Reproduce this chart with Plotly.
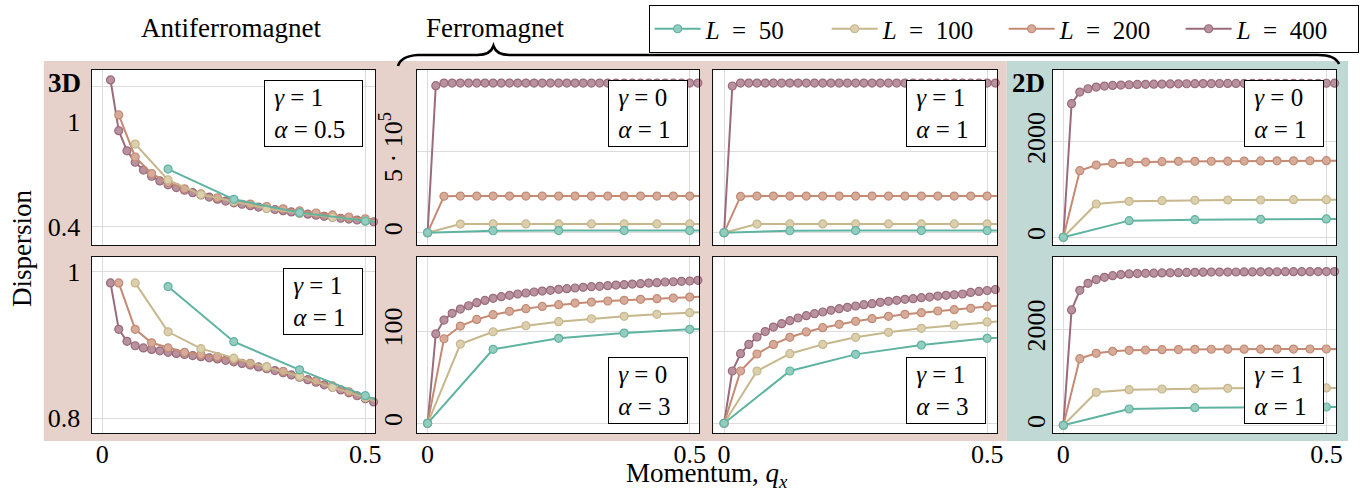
import plotly.graph_objects as go

# ---------------- data ----------------
Q50 = [0, 0.125, 0.25, 0.375, 0.5, 0.625]
Q100 = [0, 0.0625, 0.125, 0.1875, 0.25, 0.3125, 0.375, 0.4375, 0.5, 0.5625]
Q200 = [0, 0.03125, 0.0625, 0.09375, 0.125, 0.15625, 0.1875, 0.21875, 0.25, 0.28125,
        0.3125, 0.34375, 0.375, 0.40625, 0.4375, 0.46875, 0.5, 0.53125]
Q400 = [0, 0.015625, 0.03125, 0.046875, 0.0625, 0.078125, 0.09375, 0.109375, 0.125,
        0.140625, 0.15625, 0.171875, 0.1875, 0.203125, 0.21875, 0.234375, 0.25,
        0.265625, 0.28125, 0.296875, 0.3125, 0.328125, 0.34375, 0.359375, 0.375,
        0.390625, 0.40625, 0.421875, 0.4375, 0.453125, 0.46875, 0.484375, 0.5, 0.515625]

L_LABELS = ["<i>L</i>\u2002=\u200250", "<i>L</i>\u2002=\u2002100",
            "<i>L</i>\u2002=\u2002200", "<i>L</i>\u2002=\u2002400"]

# Antiferromagnet 3D (no q = 0 point)
AF_G1_A05_L50 = [0.731, 0.558, 0.482, 0.433, 0.39]
AF_G1_A05_L100 = [0.874, 0.669, 0.585, 0.545, 0.505, 0.478, 0.455, 0.437, 0.418]
AF_G1_A05_L200 = [1.04, 0.80, 0.705, 0.655, 0.618, 0.59, 0.567, 0.547, 0.531, 0.517,
                  0.504, 0.492, 0.48, 0.469, 0.457, 0.447, 0.437]
AF_G1_A05_L400 = [1.24, 0.95, 0.835, 0.77, 0.725, 0.69, 0.663, 0.641, 0.625, 0.61,
                  0.596, 0.583, 0.571, 0.559, 0.548, 0.538, 0.53, 0.522, 0.514, 0.507,
                  0.5, 0.493, 0.486, 0.479, 0.473, 0.467, 0.461, 0.455, 0.45, 0.445,
                  0.44, 0.435, 0.43]

AF_G1_A1_L50 = [0.98, 0.9045, 0.866, 0.8306, 0.795]
AF_G1_A1_L100 = [0.985, 0.918, 0.895, 0.882, 0.87, 0.857, 0.842, 0.828, 0.812]
AF_G1_A1_L200 = [0.985, 0.9215, 0.903, 0.896, 0.89, 0.887, 0.884, 0.88, 0.875, 0.87,
                 0.864, 0.858, 0.851, 0.844, 0.836, 0.828, 0.819]
AF_G1_A1_L400 = [0.985, 0.9215, 0.905, 0.899, 0.896, 0.894, 0.892, 0.89, 0.8885, 0.887,
                 0.8855, 0.884, 0.8825, 0.881, 0.879, 0.877, 0.8748, 0.8725, 0.87, 0.8675,
                 0.865, 0.862, 0.859, 0.856, 0.8525, 0.849, 0.8455, 0.842, 0.8385, 0.8345,
                 0.8305, 0.8265, 0.822]

# Ferromagnet 3D
FM_G0_A1_L50 = [0, 12000, 13000, 13000, 13000, 13000]
FM_G0_A1_L100 = [0, 53000, 54000, 54000, 54000, 54000, 54000, 54000, 54000, 54000]
FM_G0_A1_L200 = [0, 223000, 224000, 224000, 224000, 224000, 224000, 224000, 224000,
                 224000, 224000, 224000, 224000, 224000, 224000, 224000, 224000, 224000]
FM_G0_A1_L400 = [0, 900000, 916000, 916000, 916000, 916000, 916000, 916000, 916000,
                 916000, 916000, 916000, 916000, 916000, 916000, 916000, 916000, 916000,
                 916000, 916000, 916000, 916000, 916000, 916000, 916000, 916000, 916000,
                 916000, 916000, 916000, 916000, 916000, 916000, 916000]

FM_G1_A1_L50 = [0, 12000, 13000, 13000, 13000, 13000]
FM_G1_A1_L100 = [0, 53000, 54000, 54000, 54000, 54000, 54000, 54000, 54000, 54000]
FM_G1_A1_L200 = [0, 222000, 224000, 224000, 224000, 224000, 224000, 224000, 224000,
                 224000, 224000, 224000, 224000, 224000, 224000, 224000, 224000, 224000]
FM_G1_A1_L400 = [0, 898000, 916000, 916000, 916000, 916000, 916000, 916000, 916000,
                 916000, 916000, 916000, 916000, 916000, 916000, 916000, 916000, 916000,
                 916000, 916000, 916000, 916000, 916000, 916000, 916000, 916000, 916000,
                 916000, 916000, 916000, 916000, 916000, 916000, 916000]

FM_G0_A3_L50 = [0, 80.2, 92.1, 97.8, 101.8, 105.0]
FM_G0_A3_L100 = [0, 85.9, 99.2, 105.7, 110.1, 113.3, 115.9, 118.1, 119.9, 121.5]
FM_G0_A3_L200 = [0, 91.6, 105.4, 112.6, 117.7, 121.3, 124.2, 126.7, 128.5, 130.3,
                 131.4, 132.5, 133.3, 134.3, 135.0, 135.7, 136.8, 137.4]
FM_G0_A3_L400 = [0, 96.8, 111.9, 119.2, 123.8, 127.4, 130.7, 133.2, 135.4, 137.2,
                 138.7, 140.1, 141.2, 142.3, 143.3, 144.1, 145.2, 145.9, 146.6, 147.3,
                 148.0, 148.4, 149.1, 149.8, 150.2, 150.9, 151.3, 152.0, 152.4, 153.1,
                 153.4, 153.8, 154.2, 154.9]

FM_G1_A3_L50 = [0, 56.7, 74.7, 84.8, 92.1, 97.0]
FM_G1_A3_L100 = [0, 56.7, 75.4, 85.5, 93.2, 98.6, 102.9, 106.5, 109.8, 112.5]
FM_G1_A3_L200 = [0, 56.7, 75.1, 85.5, 93.2, 99.0, 103.6, 107.3, 110.5, 113.4,
                 115.9, 118.1, 119.9, 121.7, 123.1, 124.6, 126.7, 127.8]
FM_G1_A3_L400 = [0, 56.7, 75.4, 85.5, 93.5, 99.4, 104.3, 108.0, 111.2, 114.1,
                 116.6, 118.8, 120.6, 122.4, 124.2, 125.7, 127.1, 128.5, 129.6, 131.1,
                 132.2, 133.3, 134.3, 135.0, 136.1, 136.8, 137.9, 138.7, 139.3, 140.1,
                 141.8, 142.9, 143.9, 145.0]

# Ferromagnet 2D
FM2_G0_A1_L50 = [0, 349, 370, 377, 384, 386]
FM2_G0_A1_L100 = [0, 697, 753, 767, 774, 781, 781, 788, 788, 790]
FM2_G0_A1_L200 = [0, 1395, 1513, 1548, 1569, 1576, 1583, 1590, 1590, 1592, 1595, 1597,
                  1599, 1601, 1602, 1603, 1604, 1605]
FM2_G0_A1_L400 = [0, 2797, 3041, 3110, 3145, 3166, 3180, 3187, 3194, 3200, 3203, 3206,
                  3209, 3211, 3213, 3215, 3217, 3218, 3219, 3220, 3221, 3222, 3222, 3223,
                  3223, 3224, 3224, 3225, 3225, 3225, 3226, 3226, 3226, 3227]

FM2_G1_A1_L50 = [0, 340, 368, 375, 382, 384]
FM2_G1_A1_L100 = [0, 687, 743, 757, 764, 771, 775, 778, 778, 779]
FM2_G1_A1_L200 = [0, 1389, 1500, 1542, 1562, 1569, 1576, 1578, 1583, 1584, 1585, 1586,
                  1587, 1588, 1589, 1590, 1590, 1591]
FM2_G1_A1_L400 = [0, 2403, 2812, 2958, 3035, 3083, 3118, 3139, 3153, 3160, 3166, 3170,
                  3174, 3177, 3180, 3184, 3187, 3189, 3191, 3192, 3193, 3194, 3195, 3196,
                  3197, 3198, 3199, 3200, 3200, 3201, 3201, 3202, 3202, 3203]

# ---------------- styling ----------------
W, H = 1364, 493
FONT = "Liberation Serif"
LINE_COLORS = ["#5fb3a1", "#c7b78c", "#c48a73", "#9b6b7b"]
FILL_COLORS = ["#94cdbf", "#dccfae", "#d7ab9a", "#b9929f"]
PINK = "#e7d1cb"
TEAL = "#c1d9d5"
GRID = "#dcdcdc"
TICK_SIZE = 26
TEXT_SIZE = 27
BOX_SIZE = 25


def px(x):
    return x / W


def py(y):
    return 1 - y / H


COLS = [(92, 377), (419, 703), (717, 1002), (1058, 1343)]
ROWS = [(70, 245), (257, 433)]

# panel index = row * 4 + col ; (starts at k=1?, series)
PANELS = [
    (True, [AF_G1_A05_L50, AF_G1_A05_L100, AF_G1_A05_L200, AF_G1_A05_L400]),
    (False, [FM_G0_A1_L50, FM_G0_A1_L100, FM_G0_A1_L200, FM_G0_A1_L400]),
    (False, [FM_G1_A1_L50, FM_G1_A1_L100, FM_G1_A1_L200, FM_G1_A1_L400]),
    (False, [FM2_G0_A1_L50, FM2_G0_A1_L100, FM2_G0_A1_L200, FM2_G0_A1_L400]),
    (True, [AF_G1_A1_L50, AF_G1_A1_L100, AF_G1_A1_L200, AF_G1_A1_L400]),
    (False, [FM_G0_A3_L50, FM_G0_A3_L100, FM_G0_A3_L200, FM_G0_A3_L400]),
    (False, [FM_G1_A3_L50, FM_G1_A3_L100, FM_G1_A3_L200, FM_G1_A3_L400]),
    (False, [FM2_G1_A1_L50, FM2_G1_A1_L100, FM2_G1_A1_L200, FM2_G1_A1_L400]),
]
QS = [Q50, Q100, Q200, Q400]

fig = go.Figure()

for p, (skip0, ylists) in enumerate(PANELS):
    suffix = "" if p == 0 else str(p + 1)
    for s in [3, 2, 1, 0]:
        xs = QS[s][1:] if skip0 else QS[s]
        fig.add_trace(go.Scatter(
            x=xs, y=ylists[s], mode="lines+markers",
            name=L_LABELS[s], legendgroup=L_LABELS[s], showlegend=(p == 0),
            line=dict(color=LINE_COLORS[s], width=2),
            marker=dict(size=8, color=FILL_COLORS[s],
                        line=dict(color=LINE_COLORS[s], width=1.2)),
            cliponaxis=False,
            xaxis="x" + suffix, yaxis="y" + suffix,
        ))

layout = dict(
    width=W, height=H,
    margin=dict(l=0, r=0, t=0, b=0),
    paper_bgcolor="white", plot_bgcolor="white",
    font=dict(family=FONT, size=TICK_SIZE, color="black"),
    showlegend=True,
    legend=dict(orientation="h", x=px(652), y=py(5), xanchor="left", yanchor="top",
                bgcolor="white", bordercolor="black", borderwidth=1,
                traceorder="reversed", font=dict(size=BOX_SIZE, family=FONT),
                itemwidth=46, entrywidth=116, entrywidthmode="pixels"),
)

Y_SPECS = [
    dict(range=[0.297, 1.297], tickvals=[0.4, 1], ticktext=["0.4", "1"], showgrid=False,
         minor=dict(tickmode="array", tickvals=[0.4, 1.2], showgrid=True,
                    gridcolor=GRID, gridwidth=1, ticklen=0), ticklabelstandoff=5),
    dict(range=[-75300, 996000], tickvals=[0, 500000],
         ticktext=["0", "5 · 10<sup>5</sup>"], tickangle=-90, ticklabelstandoff=3),
    dict(range=[-75300, 996000], tickvals=[0, 500000], showticklabels=False),
    dict(range=[-161, 3503], tickvals=[0, 2000], tickangle=-90, ticklabelstandoff=-4),
    dict(range=[0.7795, 1.0205], tickvals=[0.8, 1], ticklabelstandoff=5),
    dict(range=[-10.5, 180.2], tickvals=[0, 100], tickangle=-90, ticklabelstandoff=3),
    dict(range=[-10.5, 180.2], tickvals=[0, 100], showticklabels=False),
    dict(range=[-160, 3506], tickvals=[0, 2000], tickangle=-90, ticklabelstandoff=-4),
]

for p in range(8):
    r, c = divmod(p, 4)
    suffix = "" if p == 0 else str(p + 1)
    x0, x1 = COLS[c]
    y0, y1 = ROWS[r]
    xa = dict(domain=[px(x0), px(x1)], range=[-0.0205, 0.5185],
              tickvals=[0, 0.5], ticktext=["0", "0.5"],
              showticklabels=(r == 1), showgrid=True, gridcolor=GRID, gridwidth=1,
              zeroline=False, showline=True, mirror=True, linecolor="#111", linewidth=1.3,
              ticks="", ticklabelstandoff=-2,
              anchor="y" + suffix, fixedrange=True)
    ya = dict(domain=[py(y1), py(y0)], showgrid=True, gridcolor=GRID, gridwidth=1,
              zeroline=False, showline=True, mirror=True, linecolor="#111", linewidth=1.3,
              ticks="", anchor="x" + suffix, fixedrange=True)
    ya.update(Y_SPECS[p])
    layout["xaxis" + suffix] = xa
    layout["yaxis" + suffix] = ya

fig.update_layout(**layout)

# background bands, with white panel faces on top of them
fig.add_shape(type="rect", xref="paper", yref="paper", x0=px(44), x1=px(1012),
              y0=py(441), y1=py(61), fillcolor=PINK, line_width=0, layer="below")
fig.add_shape(type="rect", xref="paper", yref="paper", x0=px(1012), x1=px(1355),
              y0=py(441), y1=py(61), fillcolor=TEAL, line_width=0, layer="below")
for (cx0, cx1) in COLS:
    for (ry0, ry1) in ROWS:
        fig.add_shape(type="rect", xref="paper", yref="paper", x0=px(cx0), x1=px(cx1),
                      y0=py(ry1), y1=py(ry0), fillcolor="white", line_width=0,
                      layer="below")

# brace over ferromagnet panels
pts = [(400, 66), (403, 56), (420, 55), (480, 55), (493, 55), (496, 46), (499, 55),
       (512, 55), (1325, 55), (1342, 55), (1346, 64)]
path = ("M {:.5f},{:.5f} Q {:.5f},{:.5f} {:.5f},{:.5f} L {:.5f},{:.5f} "
        "Q {:.5f},{:.5f} {:.5f},{:.5f} Q {:.5f},{:.5f} {:.5f},{:.5f} "
        "L {:.5f},{:.5f} Q {:.5f},{:.5f} {:.5f},{:.5f}").format(
    *[v for (x, y) in pts for v in (px(x), py(y))])
fig.add_shape(type="path", xref="paper", yref="paper", path=path,
              line=dict(color="black", width=2.6))

# parameter boxes
EQ = "\u2005=\u2005"
BOXES = [
    (365, 80, 99, "1", "0.5"),
    (365, 268, 80, "1", "1"),
    (692, 80, 80, "0", "1"),
    (692, 357, 80, "0", "3"),
    (991, 80, 80, "1", "1"),
    (991, 357, 80, "1", "3"),
    (1331, 80, 80, "0", "1"),
    (1331, 357, 80, "1", "1"),
]
for (xr, yt, w, g, a) in BOXES:
    txt = "&nbsp;<i>γ</i>" + EQ + g + "<br>&nbsp;<i>α</i>" + EQ + a
    fig.add_annotation(xref="paper", yref="paper", x=px(xr), y=py(yt),
                       xanchor="right", yanchor="top", text=txt, showarrow=False,
                       align="left", valign="middle", width=w - 8, height=59,
                       borderpad=3, borderwidth=1, bordercolor="black", bgcolor="white",
                       font=dict(size=BOX_SIZE, family=FONT))

# text labels
TEXTS = [
    (232, 28, "Antiferromagnet", 0),
    (498, 28, "Ferromagnet", 0),
    (65, 83, "<b>3D</b>", 0),
    (1034, 83, "<b>2D</b>", 0),
    (711, 475, "Momentum, <i>q<sub>x</sub></i>", 0),
    (22, 248, "Dispersion", -90),
]
for (x, y, t, ang) in TEXTS:
    fig.add_annotation(xref="paper", yref="paper", x=px(x), y=py(y), text=t,
                       showarrow=False, xanchor="center", yanchor="middle",
                       textangle=ang, font=dict(size=TEXT_SIZE, family=FONT))

fig.write_html("out.html", config={"displayModeBar": False},
               post_script="document.body.style.margin='0';")
